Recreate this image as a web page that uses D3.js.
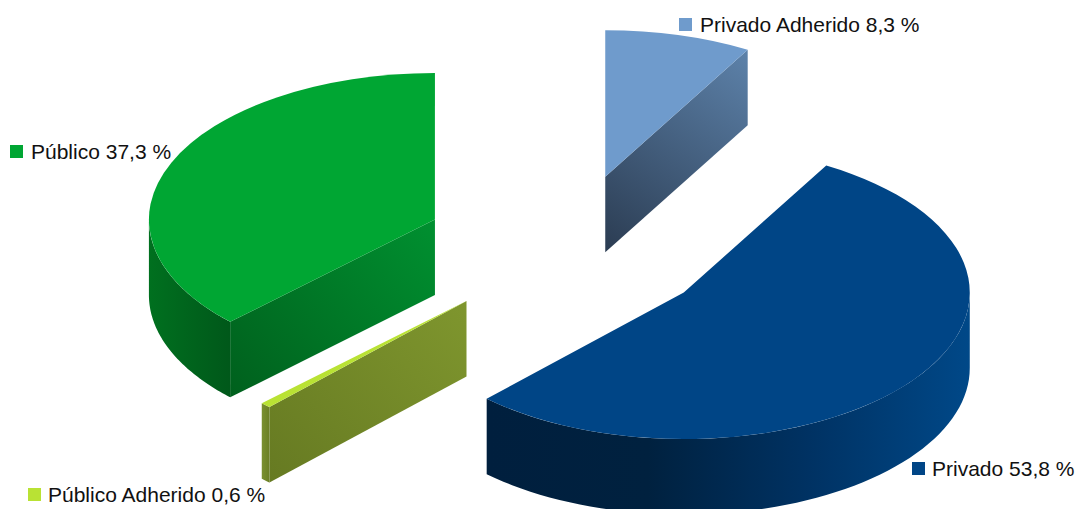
<!DOCTYPE html>
<html>
<head>
<meta charset="utf-8">
<script src="https://cdn.jsdelivr.net/npm/d3@7"></script>
<style>
  html, body { margin: 0; padding: 0; background: #fff; }
  svg { display: block; }
  text { font-family: "Liberation Sans", Arial, sans-serif; font-size: 21px; fill: #111; }
</style>
</head>
<body>
<svg id="chart" width="1075" height="509"></svg>
<script>
// Sector shares, in drawing order (counter-clockwise from 12 o'clock)
const categories = ["Público", "Público Adherido", "Privado", "Privado Adherido"];
const shares = [37.3, 0.6, 53.8, 8.3];
const topColors = ["#00a633", "#b9e234", "#004586", "#6f9bcc"];

// Disc geometry
const W = 1075, H = 509;
const cx = 568, cy = 248.3, rx = 286, ry = 146.5, depth = 75.5, explode = 0.505;
const yScale = ry / rx;

// Side-wall shading per sector, from the wall's low corner to the opposite one
const wallShades = [["#00601d", "#009030"], ["#667a22", "#7f962e"], ["#001f3e", "#001f3e"], ["#2b3c52", "#5d82aa"]];
// Curved-wall shading per sector, left to right
const rimShades = [["#00701f", "#00581a"], ["#7a9030", "#6a7f24"], ["#001f3e", "#004684"], ["#5b80a8", "#5b80a8"]];

// Legend placement for each sector: swatch corner and text start
const legendAt = [[10, 145, 31], [28, 488, 48], [912, 462, 932], [679, 18, 700]];

const svg = d3.select("#chart");
const defs = svg.append("defs");
const fmt = d3.formatLocale({ decimal: ",", thousands: ".", grouping: [3], currency: ["", ""] }).format(".1f");

const slices = d3.pie().sort(null).startAngle(0).endAngle(-2 * Math.PI)(shares);
const arc = d3.arc().innerRadius(0).outerRadius(rx);
const ptX = a => Math.sin(a) * rx;
const ptY = a => -Math.cos(a) * ry;

function gradient(id, x1, y1, x2, y2, stops) {
  const g = defs.append("linearGradient").attr("id", id).attr("gradientUnits", "userSpaceOnUse")
    .attr("x1", x1).attr("y1", y1).attr("x2", x2).attr("y2", y2);
  stops.forEach((c, i) => g.append("stop").attr("offset", i / (stops.length - 1)).attr("stop-color", c));
  return `url(#${id})`;
}

slices.forEach((s, i) => {
  const a0 = s.startAngle, a1 = s.endAngle;   // a0 > a1: angles run counter-clockwise
  const mid = (a0 + a1) / 2;
  const ox = cx + explode * ptX(mid), oy = cy + explode * ptY(mid);
  const g = svg.append("g").attr("transform", `translate(${ox},${oy})`);

  // Radial walls whose outward normal faces the viewer
  [[a0, Math.sin(a0)], [a1, -Math.sin(a1)]].forEach(([a, facing], k) => {
    if (facing <= 0.001) return;
    const x = ptX(a), y = ptY(a);
    // The gradient always runs from the lower-left corner of the wall up to its far end
    const leftIsRim = x < 0;
    const fill = leftIsRim
      ? gradient(`wall${i}${k}`, x, y + depth, 0, 0, wallShades[i])
      : gradient(`wall${i}${k}`, 0, depth, x, y, wallShades[i]);
    g.append("path")
      .attr("d", d3.line()([[0, 0], [x, y], [x, y + depth], [0, depth]]) + "Z")
      .attr("fill", fill);
  });

  // Curved outer wall: only the part of the rim on the near half of the disc
  const lo = Math.max(a1, -1.5 * Math.PI), hi = Math.min(a0, -Math.PI / 2);
  if (hi > lo) {
    const angles = d3.range(0, 61).map(n => lo + (hi - lo) * n / 60);
    const outline = angles.map(a => [ptX(a), ptY(a)])
      .concat(angles.slice().reverse().map(a => [ptX(a), ptY(a) + depth]));
    const xs = outline.map(p => p[0]);
    const stops = i === 2 ? ["#001f3e", "#00213f", "#003263", "#004888"] : rimShades[i];
    g.append("path")
      .attr("d", d3.line()(outline) + "Z")
      .attr("fill", gradient(`rim${i}`, d3.min(xs), 0, d3.max(xs), 0, stops));
  }

  // Top face
  g.append("path")
    .attr("transform", `scale(1,${yScale})`)
    .attr("d", arc({ startAngle: a1, endAngle: a0 }))
    .attr("fill", topColors[i]);
});

// Legend entries
categories.forEach((name, i) => {
  const [sx, sy, tx] = legendAt[i];
  svg.append("rect").attr("x", sx).attr("y", sy).attr("width", 13).attr("height", 13).attr("fill", topColors[i]);
  svg.append("text").attr("x", tx).attr("y", sy + 14).text(`${name} ${fmt(shares[i])} %`);
});
</script>
</body>
</html>
